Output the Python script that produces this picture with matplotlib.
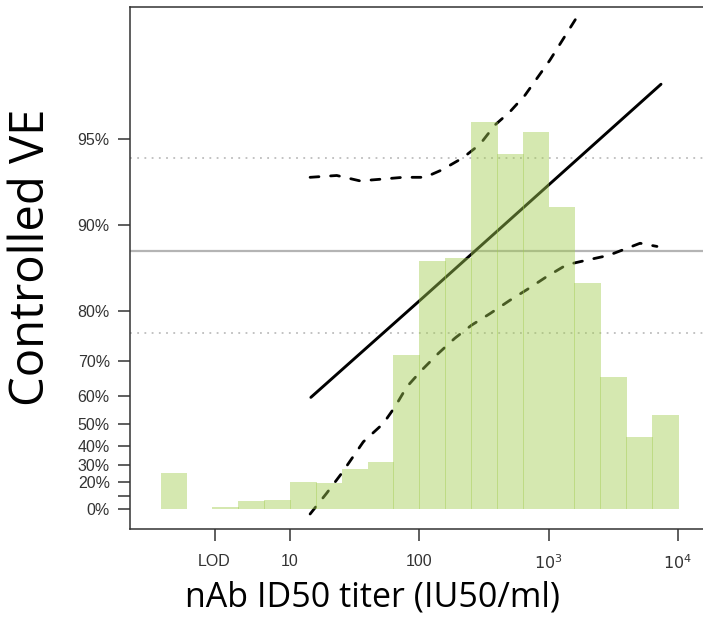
import numpy as np
import matplotlib
matplotlib.use("Agg")
from matplotlib import pyplot as plt

# controlled VE curve (point estimate) and 95% pointwise bounds
titer_fit = [14.5, 100, 7400]
ve_fit = [0.596, 0.815, 0.968]

titer_upper = [14.3, 23, 34.8, 51.4, 74.8, 110.6, 150, 218, 295, 385, 502, 656, 1025, 1690]
ve_upper = [0.932, 0.933, 0.930, 0.931, 0.932, 0.932, 0.936, 0.942, 0.948, 0.9555,
            0.960, 0.965, 0.9737, 0.9817]

titer_lower = [14.3, 19.2, 25.1, 36.9, 52.7, 64.9, 80.0, 104.5, 140.3, 188.8, 254.1,
               352.4, 502.3, 677.6, 966, 1380, 1972, 2897, 5093, 6887]
ve_lower = [-0.039, 0.122, 0.253, 0.421, 0.501, 0.564, 0.629, 0.676, 0.717, 0.750, 0.775,
            0.795, 0.816, 0.831, 0.848, 0.862, 0.867, 0.872, 0.884, 0.881]

# overall VE and its CI (horizontal reference lines)
ve_overall = 0.877
ve_overall_lo = 0.761
ve_overall_hi = 0.942

# titer histogram: left bin edges (log10 titer), bin width 0.2, relative heights
bin_left_log10 = [0.0, 0.2, 0.4, 0.6, 0.8, 1.0, 1.2, 1.4, 1.6, 1.8,
                  2.0, 2.2, 2.4, 2.6, 2.8, 3.0, 3.2, 3.4, 3.6, 3.8]
bin_width_log10 = 0.2
bin_heights = [0.36, 0.005, 0.026, 0.083, 0.096, 0.276, 0.266, 0.403, 0.47, 1.546,
               2.48, 2.51, 3.876, 3.553, 3.776, 3.026, 2.26, 1.326, 0.726, 0.946]

lod = 2.61
x_ticks = [lod, 10, 100, 1000, 10000]
x_ticklabels = ["LOD", "10", "100", "$10^3$", "$10^4$"]
y_ticks = [0.0, 0.1, 0.2, 0.3, 0.4, 0.5, 0.6, 0.7, 0.8, 0.9, 0.95]
y_ticklabels = ["0%", "", "20%", "30%", "40%", "50%", "60%", "70%", "80%", "90%", "95%"]


def fwd(v):
    v = np.asarray(v, dtype=float)
    return -np.log(np.clip(1 - v, 1e-9, None))


def inv(t):
    return 1 - np.exp(-np.asarray(t, dtype=float))


W, H = 703, 617
fig = plt.figure(figsize=(W / 100, H / 100), dpi=100)
ax = fig.add_axes([130 / W, (H - 529.3) / H, (W - 130) / W, (529.3 - 7.3) / H])

ax.set_xscale("log")
ax.set_yscale("function", functions=(fwd, inv))

# histogram on top (twin axis), semi-transparent
ax2 = ax.twinx()
ax2.set_ylim(-0.20, 5.02)
lefts = 10 ** np.array(bin_left_log10)
widths = 10 ** (np.array(bin_left_log10) + bin_width_log10 + 0.006) - lefts
ax2.bar(lefts, bin_heights, width=widths, align="edge",
        color="#a2cc50", alpha=0.45, linewidth=0)
ax2.set_yticks([])
for s in ax2.spines.values():
    s.set_visible(False)

ax.set_xlim(10 ** -0.2374, 10 ** 4.194)
ax.set_ylim(inv(-0.162), inv(4.065))

# reference lines
ax.axhline(ve_overall, color="#b4b4b4", lw=1.6, zorder=1)
for v in (ve_overall_lo, ve_overall_hi):
    ax.axhline(v, color="#bdbdbd", lw=1.3, ls=(0, (1, 3)), zorder=1)

ax.plot(titer_fit, ve_fit, color="black", lw=2.1, solid_capstyle="round", zorder=3)
for tt, vv in ((titer_upper, ve_upper), (titer_lower, ve_lower)):
    ax.plot(tt, vv, color="black", lw=2.0, dashes=(3.2, 4.2),
            dash_capstyle="round", zorder=3)

ax.set_xticks(x_ticks)
ax.set_xticklabels(x_ticklabels)
ax.xaxis.set_minor_locator(matplotlib.ticker.NullLocator())
ax.set_yticks(y_ticks)
ax.set_yticklabels(y_ticklabels)
ax.yaxis.set_minor_locator(matplotlib.ticker.NullLocator())
ax.tick_params(axis="both", length=8.5, width=1.1, color="#333333",
               labelcolor="#333333", labelsize=11.5)
ax.tick_params(axis="y", pad=6)
ax.tick_params(axis="x", pad=9)
for lab in ax.get_xticklabels() + ax.get_yticklabels():
    lab.set_fontfamily("Liberation Sans")
for side in ("left", "bottom", "top"):
    ax.spines[side].set_color("#333333")
    ax.spines[side].set_linewidth(1.1)
ax.spines["right"].set_visible(False)

fig.text(372.5 / W, (H - 607) / H, "nAb ID50 titer (IU50/ml)", family="Open Sans",
         fontsize=24.5, ha="center", va="baseline")
fig.text(31 / W, (H - 257) / H, "Controlled VE", family="Open Sans",
         fontsize=34, ha="center", va="center", rotation=90)

fig.savefig("out.png", dpi=100)
